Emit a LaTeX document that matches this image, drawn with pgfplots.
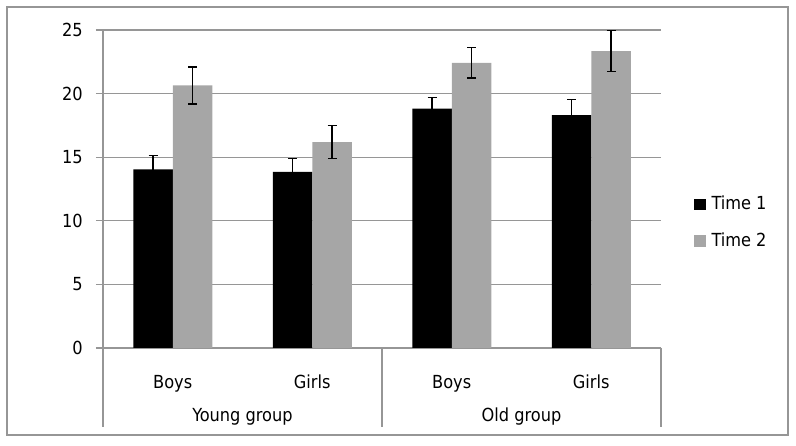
\documentclass[border=0pt]{standalone}
\usepackage{fontspec}
\setmainfont{DejaVu Sans Condensed}
\usepackage{pgfplots}
\pgfplotsset{compat=1.18}
\definecolor{gridc}{RGB}{150,150,150}
\definecolor{bargray}{RGB}{166,166,166}
\begin{document}
\fontsize{18}{22}\selectfont
\begin{tikzpicture}[x=1pt,y=1pt]
\path (0,0) rectangle (796,446);
\draw[gridc, line width=1.2pt] (7,11) rectangle (788,439);
\begin{axis}[
  at={(103pt,98pt)}, anchor=south west,
  scale only axis, width=558pt, height=318pt,
  xmin=-0.5, xmax=3.5, ymin=0, ymax=25,
  ybar=0pt, bar width=39.5pt,
  axis x line*=bottom, axis y line*=left,
  axis line style={gridc, line width=1.2pt, -},
  ytick={0,5,10,15,20,25},
  ymajorgrids, grid style={gridc, line width=1.2pt},
  xtick={0,1,2,3}, xticklabels={Boys,Girls,Boys,Girls},
  x tick style={draw=none},
  y tick style={gridc, line width=1.2pt},
  tick align=outside, major tick length=7pt,
  xticklabel style={anchor=base, yshift=-34pt, inner sep=0pt},
  yticklabel style={anchor=east, inner sep=0pt, xshift=-13pt},
  /pgf/number format/assume math mode=true,
  tick label style={font=\fontsize{18}{22}\selectfont},
  clip=false,
  legend style={at={(1.059,0.394)}, anchor=west, draw=none, inner sep=0pt,
    font=\fontsize{18}{22}\selectfont, row sep=16.5pt,
    /tikz/every odd column/.append style={column sep=4pt}},
  legend cell align=left,
  legend image code/.code={\fill[#1] (0pt,-5.7pt) rectangle (11.4pt,5.7pt);},
]
\addplot[fill=black, draw=none,
  error bars/.cd, y dir=both, y explicit,
  error bar style={black, line width=1.3pt},
  error mark options={black, rotate=90, mark size=4.5pt, line width=1.3pt}]
  coordinates {(0,14.05) +- (0,1.07) (1,13.84) +- (0,1.05) (2,18.81) +- (0,0.87) (3,18.31) +- (0,1.21)};
\addlegendentry{Time 1}
\addplot[fill=bargray, draw=none,
  error bars/.cd, y dir=both, y explicit,
  error bar style={black, line width=1.3pt},
  error mark options={black, rotate=90, mark size=4.5pt, line width=1.3pt}]
  coordinates {(0,20.64) +- (0,1.45) (1,16.19) +- (0,1.31) (2,22.42) +- (0,1.19) (3,23.34) +- (0,1.6)};
\addlegendentry{Time 2}
\draw[gridc, line width=1.2pt] (axis cs:-0.5,0) -- ([yshift=-79pt]axis cs:-0.5,0);
\draw[gridc, line width=1.2pt] (axis cs:1.5,0) -- ([yshift=-79pt]axis cs:1.5,0);
\draw[gridc, line width=1.2pt] (axis cs:3.5,0) -- ([yshift=-79pt]axis cs:3.5,0);
\node[anchor=base, inner sep=0pt] at ([yshift=-74pt]axis cs:0.5,0) {Young group};
\node[anchor=base, inner sep=0pt] at ([yshift=-74pt]axis cs:2.5,0) {Old group};
\end{axis}
\end{tikzpicture}
\end{document}
